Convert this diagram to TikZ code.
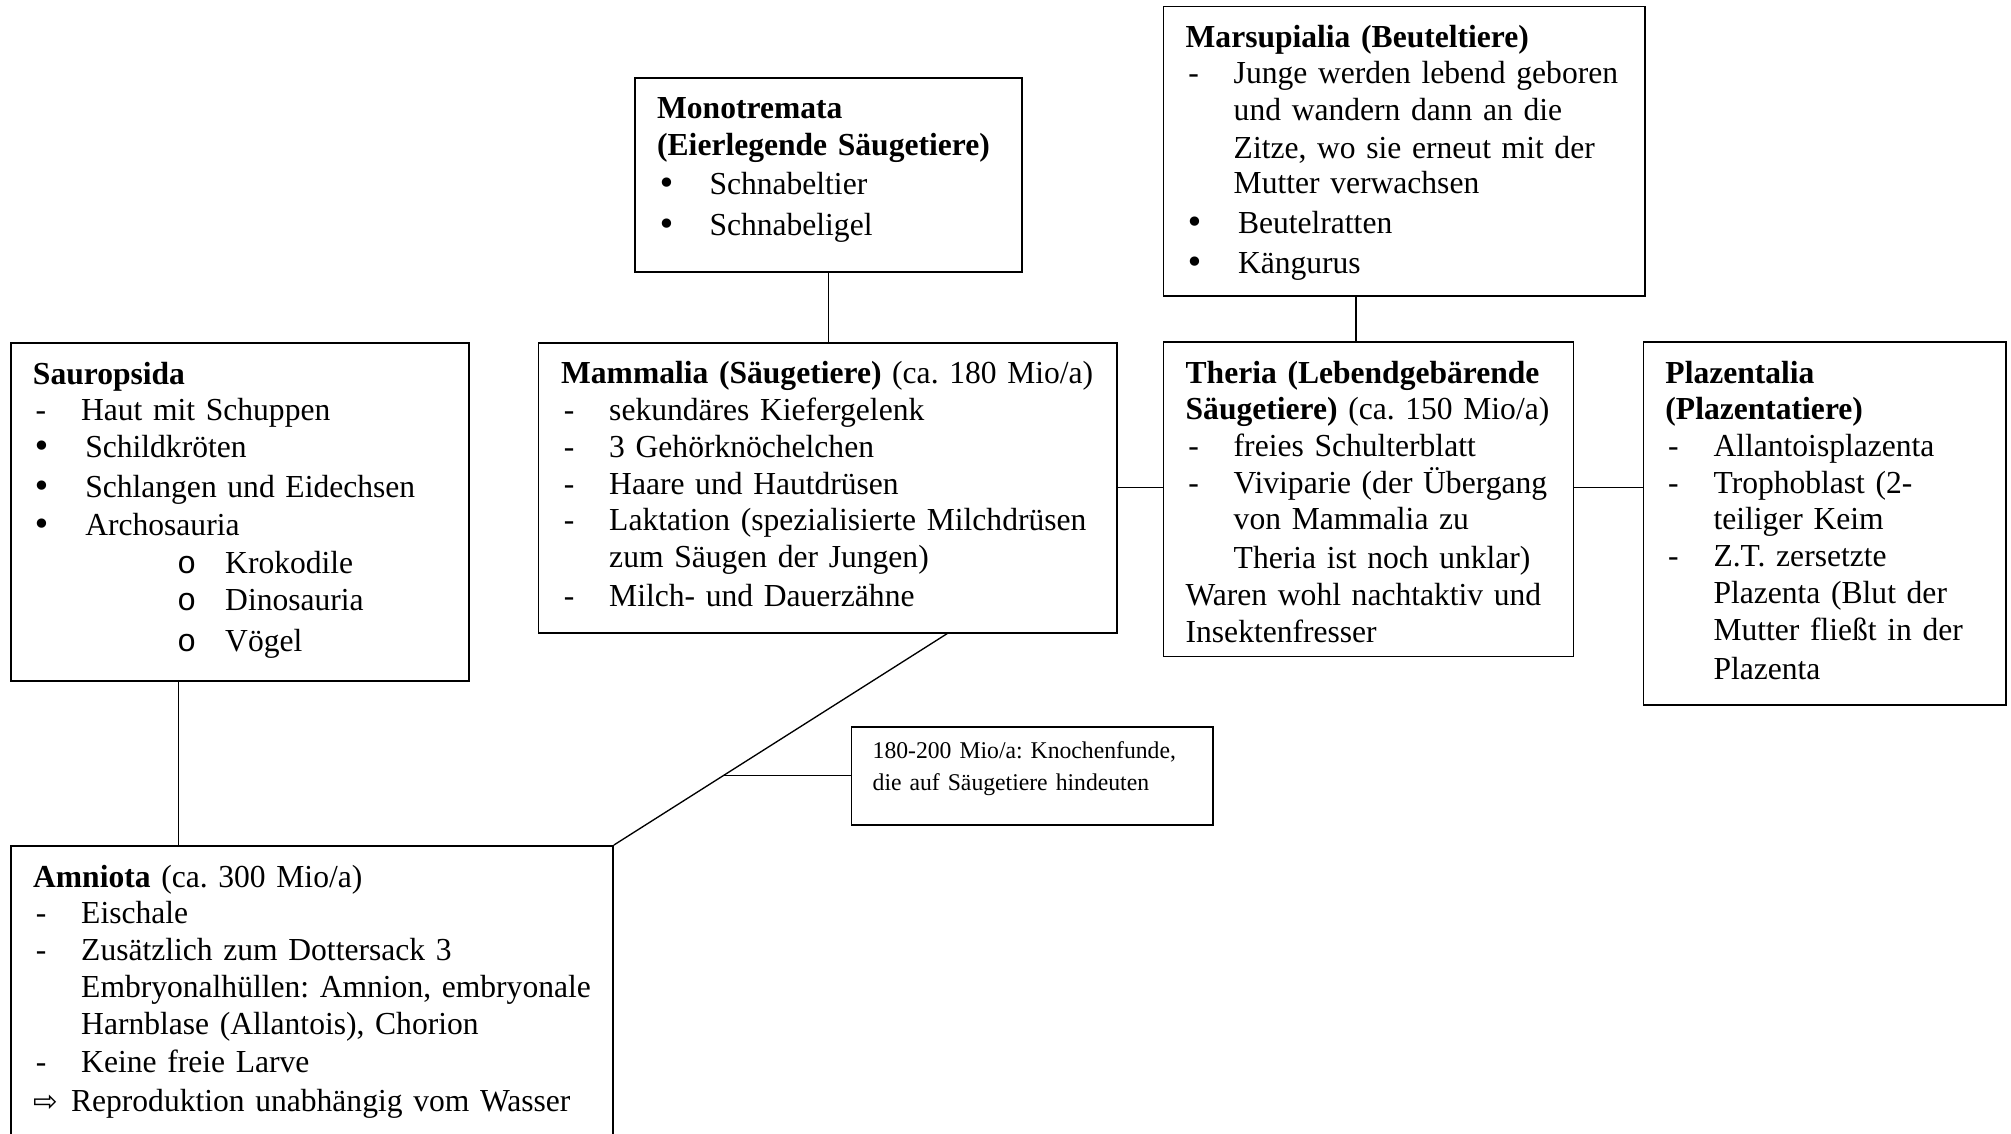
\documentclass[tikz,border=0pt]{standalone}
\usepackage{fontspec}
\setmainfont[FakeStretch=0.985]{Liberation Serif}
\newfontfamily\symfont{DejaVu Sans}
\newfontfamily\circfont{Liberation Mono}
\usetikzlibrary{fit,calc}
\newcommand\dl[1]{\makebox[18pt][l]{\hspace{1pt}-}#1}
\newcommand\bl[1]{\makebox[19.6pt][l]{{\symfont•}}#1}
\newcommand\cl[1]{\hspace*{18pt}#1}
\newcommand\ol[1]{\hspace*{54pt}\makebox[18pt][l]{\circfont o}#1}
\newcommand\al[1]{\makebox[14.2pt][l]{\symfont\fontsize{11pt}{13pt}\selectfont ⇨}#1}
\begin{document}
\frenchspacing
\begin{tikzpicture}[x=0.3745pt,y=-0.3745pt]
\tikzset{box/.style = {draw, line width=0.65pt, inner sep=0pt},
  txt/.style = {anchor=base west, inner sep=0pt, align=left, font=\fontsize{12pt}{13.75pt}\selectfont},
  link/.style = {line width=0.5pt}}
\useasboundingbox (0,0) rectangle (2011,1134);
\clip (0,0) rectangle (2011,1134);
\node[box, fit={(635,78.3) (1021.7,272.3)}] (mono) {};
\node[box, fit={(1163.5,6.4) (1645.3,296)}] (mars) {};
\node[box, fit={(10.9,342.9) (469.2,680.8)}] (saur) {};
\node[box, fit={(538.4,342.8) (1117,632.7)}] (mamm) {};
\node[box, fit={(1163.5,342) (1573.5,656.6)}] (ther) {};
\node[box, fit={(1643.4,342) (2005.9,704.8)}] (plaz) {};
\node[box, fit={(851.4,726.7) (1213.3,824.8)}] (note) {};
\node[box, fit={(11,845.9) (613,1160)}] (amni) {};
\node[txt, text width=135.5pt] (monotext) at ([shift={(22.5,41.5)}]mono.north west)
  {\textbf{Monotremata}\\
   \textbf{(Eierlegende Säugetiere)}\\[0.9pt]
   \bl{Schnabeltier}\\[1.6pt]
   \bl{Schnabeligel}};
\node[txt, text width=171pt] (marstext) at ([shift={(22.5,41.5)}]mars.north west)
  {\textbf{Marsupialia (Beuteltiere)}\\
   \dl{Junge werden lebend geboren}\\
   \cl{und wandern dann an die}\\[0.5pt]
   \cl{Zitze, wo sie erneut mit der}\\[-0.5pt]
   \cl{Mutter verwachsen}\\[1.2pt]
   \bl{Beutelratten}\\[1.2pt]
   \bl{Kängurus}};
\node[txt, text width=162.3pt] (saurtext) at ([shift={(22.4,42)}]saur.north west)
  {\textbf{Sauropsida}\\
   \dl{Haut mit Schuppen}\\
   \bl{Schildkröten}\\[1.4pt]
   \bl{Schlangen und Eidechsen}\\[0.4pt]
   \bl{Archosauria}\\[0.5pt]
   \ol{Krokodile}\\
   \ol{Dinosauria}\\[1.8pt]
   \ol{Vögel}};
\node[txt, text width=207.3pt] (mammtext) at ([shift={(23.1,42)}]mamm.north west)
  {\textbf{Mammalia (Säugetiere)} (ca. 180 Mio/a)\\
   \dl{sekundäres Kiefergelenk}\\
   \dl{3 Gehörknöchelchen}\\
   \dl{Haare und Hautdrüsen}\\
   \dl{Laktation (spezialisierte Milchdrüsen}\\
   \cl{zum Säugen der Jungen)}\\[1pt]
   \dl{Milch- und Dauerzähne}};
\node[txt, text width=144.2pt] (thertext) at ([shift={(22.5,42)}]ther.north west)
  {\textbf{Theria (Lebendgebärende}\\
   \textbf{Säugetiere)} (ca. 150 Mio/a)\\
   \dl{freies Schulterblatt}\\
   \dl{Viviparie (der Übergang}\\
   \cl{von Mammalia zu}\\[0.8pt]
   \cl{Theria ist noch unklar)}\\
   Waren wohl nachtaktiv und\\
   Insektenfresser};
\node[txt, text width=126.4pt] (plaztext) at ([shift={(22.4,42)}]plaz.north west)
  {\textbf{Plazentalia}\\
   \textbf{(Plazentatiere)}\\
   \dl{Allantoisplazenta}\\
   \dl{Trophoblast (2-}\\
   \cl{teiliger Keim}\\
   \dl{Z.T. zersetzte}\\
   \cl{Plazenta (Blut der}\\
   \cl{Mutter fließt in der}\\[1.1pt]
   \cl{Plazenta}};
\node[txt, text width=126.2pt, font=\fontsize{9pt}{12.1pt}\selectfont] (notetext) at ([shift={(21.6,32.5)}]note.north west)
  {180-200 Mio/a: Knochenfunde,\\
   die auf Säugetiere hindeuten};
\node[txt, text width=216pt] (amnitext) at ([shift={(22.5,42)}]amni.north west)
  {\textbf{Amniota} (ca. 300 Mio/a)\\
   \dl{Eischale}\\
   \dl{Zusätzlich zum Dottersack 3}\\[0.3pt]
   \cl{Embryonalhüllen: Amnion, embryonale}\\
   \cl{Harnblase (Allantois), Chorion}\\[0.3pt]
   \dl{Keine freie Larve}\\[0.9pt]
   \al{Reproduktion unabhängig vom Wasser}};
\coordinate (thtop) at ($(ther.north west)!0.47!(ther.north east)$);
\coordinate (saubot) at ($(saur.south west)!0.366!(saur.south east)$);
\coordinate (mambot) at ($(mamm.south west)!0.706!(mamm.south east)$);
\coordinate (dmid) at ($(mambot)!0.67!(amni.north east)$);
\draw[link] (mono.south) -- (mono.south |- mamm.north);
\draw[link] (thtop) -- (thtop |- mars.south);
\draw[link] (mamm.east) -- (mamm.east -| ther.west);
\draw[link] (mamm.east -| ther.east) -- (mamm.east -| plaz.west);
\draw[link] (saubot) -- (saubot |- amni.north);
\draw[link] (mambot) -- (amni.north east);
\draw[link] (note.west) -- (note.west -| dmid);
\end{tikzpicture}
\end{document}
